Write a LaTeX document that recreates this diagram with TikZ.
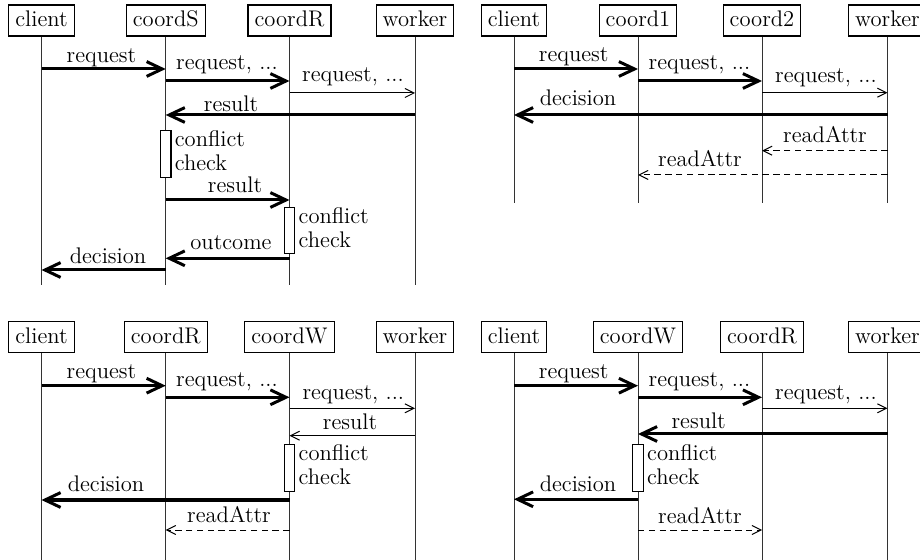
\documentclass[tikz,border=0pt]{standalone}
\usetikzlibrary{arrows.meta}
\newcommand\msgfont{\fontsize{11.3}{12.15}\selectfont}
\newcommand\reqdots{request, ...}
\begin{document}
\begin{tikzpicture}[x=0.5pt,y=-0.5pt,
 actor/.style={draw, line width=0.6pt, inner xsep=3.3pt, inner ysep=3.3pt, text height=7.6pt, text depth=1.3pt, font=\msgfont},
 life/.style={line width=0.5pt, black!80},
 thickmsg/.style={line width=1.5pt, -{Straight Barb[length=7.8pt,width=7.4pt]}},
 thinmsg/.style={line width=0.5pt, -{Straight Barb[length=4.5pt,width=4.5pt]}},
 dashmsg/.style={thinmsg, dash pattern=on 3.2pt off 2.2pt},
 lbl/.style={anchor=base, inner sep=0pt, font=\msgfont},
 act/.style={draw, fill=white, line width=0.6pt, minimum width=5.2pt, minimum height=23.3pt, inner sep=0pt, anchor=north},
 note/.style={anchor=north west, align=left, inner sep=0pt, xshift=1.5pt, font=\msgfont}]
\useasboundingbox (0,0) rectangle (920,560);
\clip (0,0) rectangle (920,560);

% ---------- top left ----------
\node[actor] (a1) at (41.5,20.5) {client};
\node[actor] (a2) at (165.7,20.5) {coordS};
\node[actor] (a3) at (289.5,20.5) {coordR};
\node[actor] (a4) at (415,20.5) {worker};
\foreach \n in {a1,a2,a3,a4} \draw[life] (\n.south) -- (\n |- 0,285);
\draw[thickmsg] (a1 |- 0,69) -- (a2 |- 0,69);
\node[lbl] (la1) at (101.5,62.7) {request};
\draw[thickmsg] (a2 |- 0,81) -- (a3 |- 0,81);
\node[lbl] (la2) at (227,70) {\reqdots};
\draw[thinmsg] (a3 |- 0,93) -- (a4 |- 0,93);
\node[lbl] (la3) at (353,81.5) {\reqdots};
\draw[thickmsg] (a4 |- 0,115) -- (a2 |- 0,115);
\node[lbl] (la4) at (231,111.7) {result};
\node[act] (aa1) at (a2 |- 0,130) {};
\node[note] (na1) at (aa1.north east) {conflict\\check};
\draw[thickmsg] (a2 |- 0,200) -- (a3 |- 0,200);
\node[lbl] (la5) at (235,192.7) {result};
\node[act] (aa2) at (a3 |- 0,206.7) {};
\node[note] (na2) at (aa2.north east) {conflict\\check};
\draw[thickmsg] (a3 |- 0,258.3) -- (a2 |- 0,258.3);
\node[lbl] (la6) at (231,250) {outcome};
\draw[thickmsg] (a2 |- 0,270) -- (a1 |- 0,270);
\node[lbl] (la7) at (108,263.3) {decision};

% ---------- top right ----------
\node[actor] (b1) at (514,20.5) {client};
\node[actor] (b2) at (638,20.5) {coord1};
\node[actor] (b3) at (762,20.5) {coord2};
\node[actor] (b4) at (887.5,20.5) {worker};
\foreach \n in {b1,b2,b3,b4} \draw[life] (\n.south) -- (\n |- 0,203.3);
\draw[thickmsg] (b1 |- 0,69) -- (b2 |- 0,69);
\node[lbl] (lb1) at (573.7,61.7) {request};
\draw[thickmsg] (b2 |- 0,81) -- (b3 |- 0,81);
\node[lbl] (lb2) at (699.5,70) {\reqdots};
\draw[thinmsg] (b3 |- 0,92.7) -- (b4 |- 0,92.7);
\node[lbl] (lb3) at (826,82.7) {\reqdots};
\draw[thickmsg] (b4 |- 0,115) -- (b1 |- 0,115);
\node[lbl] (lb4) at (578,106) {decision};
\draw[dashmsg] (b4 |- 0,150.7) -- (b3 |- 0,150.7);
\node[lbl] (lb5) at (825,142.7) {readAttr};
\draw[dashmsg] (b4 |- 0,175) -- (b2 |- 0,175);
\node[lbl] (lb6) at (700,166.7) {readAttr};

% ---------- bottom left ----------
\node[actor] (c1) at (41.5,336.8) {client};
\node[actor] (c2) at (165.7,336.8) {coordR};
\node[actor] (c3) at (289.5,336.8) {coordW};
\node[actor] (c4) at (415,336.8) {worker};
\foreach \n in {c1,c2,c3,c4} \draw[life] (\n.south) -- (\n |- 0,565);
\draw[thickmsg] (c1 |- 0,385.7) -- (c2 |- 0,385.7);
\node[lbl] (lc1) at (101.5,378.3) {request};
\draw[thickmsg] (c2 |- 0,397.3) -- (c3 |- 0,397.3);
\node[lbl] (lc2) at (227,386.7) {\reqdots};
\draw[thinmsg] (c3 |- 0,408.3) -- (c4 |- 0,408.3);
\node[lbl] (lc3) at (353.3,399.3) {\reqdots};
\draw[thinmsg] (c4 |- 0,435.7) -- (c3 |- 0,435.7);
\node[lbl] (lc4) at (350,430) {result};
\node[act] (ac1) at (c3 |- 0,444) {};
\node[note] (nc1) at (ac1.north east) {conflict\\check};
\draw[thickmsg] (c3 |- 0,500) -- (c1 |- 0,500);
\node[lbl] (lc5) at (106,491.7) {decision};
\draw[dashmsg] (c3 |- 0,530) -- (c2 |- 0,530);
\node[lbl] (lc6) at (229,522.3) {readAttr};

% ---------- bottom right ----------
\node[actor] (d1) at (514,336.8) {client};
\node[actor] (d2) at (638,336.8) {coordW};
\node[actor] (d3) at (762,336.8) {coordR};
\node[actor] (d4) at (887.5,336.8) {worker};
\foreach \n in {d1,d2,d3,d4} \draw[life] (\n.south) -- (\n |- 0,565);
\draw[thickmsg] (d1 |- 0,385.7) -- (d2 |- 0,385.7);
\node[lbl] (ld1) at (573.7,378.3) {request};
\draw[thickmsg] (d2 |- 0,397.3) -- (d3 |- 0,397.3);
\node[lbl] (ld2) at (699.5,386.7) {\reqdots};
\draw[thinmsg] (d3 |- 0,408.3) -- (d4 |- 0,408.3);
\node[lbl] (ld3) at (826,399.3) {\reqdots};
\draw[thickmsg] (d4 |- 0,434) -- (d2 |- 0,434);
\node[lbl] (ld4) at (698.7,428.3) {result};
\node[act] (ad1) at (d2 |- 0,444) {};
\node[note] (nd1) at (ad1.north east) {conflict\\check};
\draw[thickmsg] (d2 |- 0,499.3) -- (d1 |- 0,499.3);
\node[lbl] (ld5) at (578,491.7) {decision};
\draw[dashmsg] (d2 |- 0,530) -- (d3 |- 0,530);
\node[lbl] (ld6) at (700,523.3) {readAttr};
\end{tikzpicture}
\end{document}
